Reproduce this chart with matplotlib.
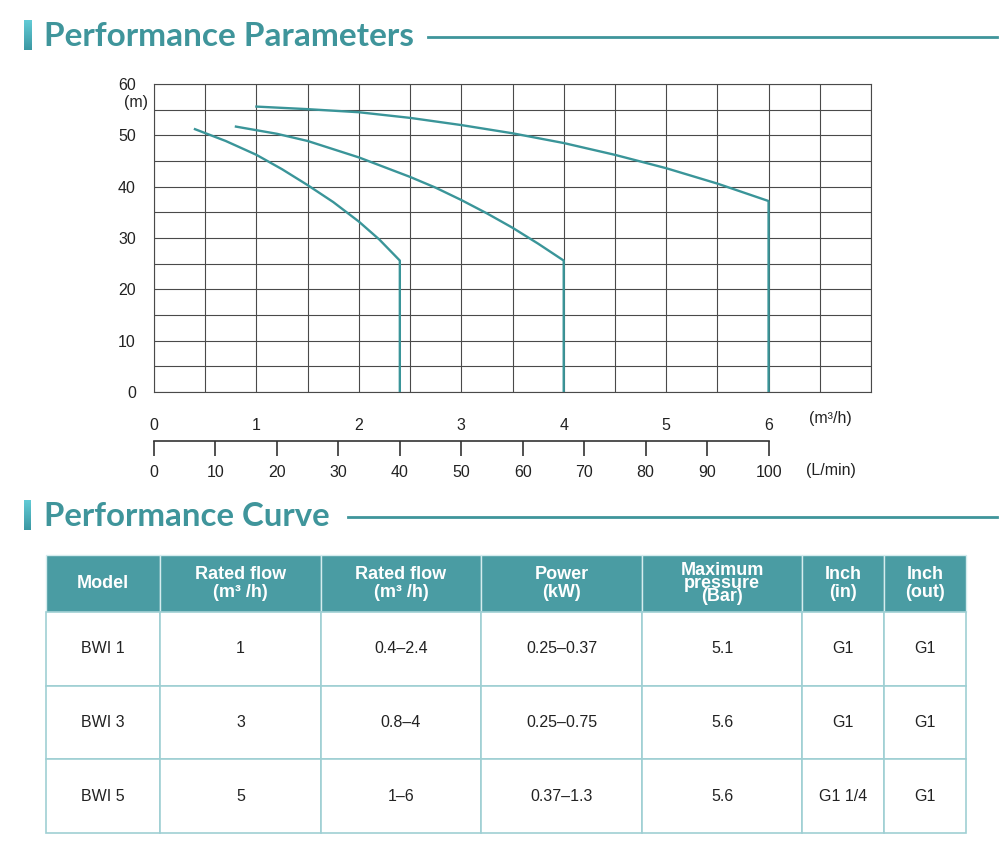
import numpy as np
import matplotlib
matplotlib.use('Agg')
import matplotlib.pyplot as plt
from matplotlib.colors import LinearSegmentedColormap

plt.rcParams['font.family'] = ['Liberation Sans', 'DejaVu Sans']

# pump curves (flow m3/h, head m)
bwi1_q = [0.4, 0.7, 1.0, 1.25, 1.5, 1.75, 2.0, 2.2, 2.4, 2.4]
bwi1_h = [51.2, 48.9, 46.2, 43.4, 40.3, 37.0, 33.2, 29.7, 25.6, 0]
bwi3_q = [0.8, 1.2, 1.5, 2.0, 2.5, 2.75, 3.0, 3.25, 3.5, 3.75, 4.0, 4.0]
bwi3_h = [51.7, 50.3, 48.9, 45.7, 41.9, 39.8, 37.4, 34.8, 32.0, 28.9, 25.6, 0]
bwi5_q = [1.0, 1.5, 2.0, 2.5, 3.0, 3.5, 4.0, 4.5, 5.0, 5.5, 6.0, 6.0]
bwi5_h = [55.6, 55.1, 54.5, 53.4, 52.0, 50.4, 48.5, 46.2, 43.6, 40.6, 37.2, 0]

flow_ticks = [0, 1, 2, 3, 4, 5, 6]
lmin_ticks = [0, 10, 20, 30, 40, 50, 60, 70, 80, 90, 100]
head_ticks = [0, 10, 20, 30, 40, 50, 60]

# table
headers = ['Model', 'Rated flow\n(m³ /h)', 'Rated flow\n(m³ /h)', 'Power\n(kW)',
           'Maximum\npressure\n(Bar)', 'Inch\n(in)', 'Inch\n(out)']
models = ['BWI 1', 'BWI 3', 'BWI 5']
rated = ['1', '3', '5']
flow_range = ['0.4–2.4', '0.8–4', '1–6']
power = ['0.25–0.37', '0.25–0.75', '0.37–1.3']
pressure = ['5.1', '5.6', '5.6']
inch_in = ['G1', 'G1', 'G1 1/4']
inch_out = ['G1', 'G1', 'G1']

teal = '#3f959b'
curve_c = '#3a9599'
head_bg = '#4a9ca3'
grid_c = '#4a4a4a'

W, H = 1000, 847
fig = plt.figure(figsize=(10, 8.47), dpi=100)

# overlay for titles / table, in pixel coords
ov = fig.add_axes([0, 0, 1, 1])
ov.axis('off')

grad = np.linspace(0, 1, 50).reshape(-1, 1)
cm = LinearSegmentedColormap.from_list('bar', ['#62cbd6', '#3b98a3'])
ov.imshow(grad, cmap=cm, extent=[24, 32, 50, 20], aspect='auto', zorder=1)
ov.imshow(grad, cmap=cm, extent=[24, 31, 530, 500], aspect='auto', zorder=1)
ov.set_xlim(0, W)
ov.set_ylim(H, 0)

tfont = ['Lato', 'DejaVu Sans']
ov.text(44, 36, 'Performance Parameters', fontsize=24, fontweight='bold',
        color=teal, va='center', ha='left', family=tfont)
ov.plot([428, 997], [37, 37], color=teal, lw=2)
ov.text(44, 516, 'Performance Curve', fontsize=23.8, fontweight='bold',
        color=teal, va='center', ha='left', family=tfont)
ov.plot([348, 997], [517, 517], color=teal, lw=2)

# main chart
ax = fig.add_axes([154 / W, 1 - 392 / H, 717 / W, 308 / H])
ax.set_xlim(0, 7)
ax.set_ylim(0, 60)
ax.set_xticks(flow_ticks)
ax.set_xticks(np.arange(0, 7.01, 0.5), minor=True)
ax.set_yticks(head_ticks)
ax.set_yticks(np.arange(0, 60.1, 5), minor=True)
ax.grid(which='both', color=grid_c, lw=0.8)
ax.tick_params(which='both', length=0, labelsize=11.5, colors='#222')
ax.tick_params(axis='x', pad=19)
ax.tick_params(axis='y', pad=13)
for s in ax.spines.values():
    s.set_color(grid_c)
    s.set_linewidth(0.8)
for q, h in [(bwi1_q, bwi1_h), (bwi3_q, bwi3_h), (bwi5_q, bwi5_h)]:
    ax.plot(q, h, color=curve_c, lw=1.7, zorder=3, solid_joinstyle='round')

ov.text(136, 103, '(m)', fontsize=11.5, ha='center', va='center', color='#222')
ov.text(830, 418, '(m³/h)', fontsize=11.5, ha='center', va='center', color='#222')
ov.text(831, 471, '(L/min)', fontsize=11.5, ha='center', va='center', color='#222')

# L/min scale
ax2 = fig.add_axes([154 / W, 1 - 441 / H, 717 / W, 0.0001])
ax2.set_xlim(0, 7 * 100 / 6)
ax2.set_ylim(0, 1)
for k in ['top', 'left', 'right']:
    ax2.spines[k].set_visible(False)
ax2.spines['bottom'].set_bounds(0, 100)
ax2.spines['bottom'].set_color('#333')
ax2.spines['bottom'].set_linewidth(1.2)
ax2.set_yticks([])
ax2.set_xticks(lmin_ticks)
ax2.tick_params(axis='x', direction='out', length=10.5, width=1.2, color='#333',
                pad=7, labelsize=11.5, labelcolor='#222')
ax2.patch.set_visible(False)

# table
rows = list(zip(models, rated, flow_range, power, pressure, inch_in, inch_out))
col_edges = [46, 160, 321, 481, 642, 802, 884, 966]
col_w = np.diff(col_edges) / (col_edges[-1] - col_edges[0])
top, bot = 555, 833
tb = ov.table(cellText=rows, colLabels=headers, colWidths=list(col_w),
              cellLoc='center',
              bbox=[col_edges[0] / W, 1 - bot / H, (col_edges[-1] - col_edges[0]) / W,
                    (bot - top) / H])
tb.auto_set_font_size(False)
for (r, c), cell in tb.get_celld().items():
    if r == 0:
        cell.set_height(57)
        cell.set_facecolor(head_bg)
        cell.set_edgecolor('#d5ecee')
        cell.set_linewidth(1.0)
        t = cell.get_text()
        t.set_color('white')
        t.set_fontweight('bold')
        t.set_fontsize(13)
        if c == 4:
            t.set_linespacing(0.72)
        else:
            t.set_linespacing(1.05)
    else:
        cell.set_height(74)
        cell.set_facecolor('white')
        cell.set_edgecolor('#9fcfd3')
        cell.set_linewidth(1.2)
        t = cell.get_text()
        t.set_color('#222')
        t.set_fontsize(11.5)

fig.savefig('out.png', dpi=100)
